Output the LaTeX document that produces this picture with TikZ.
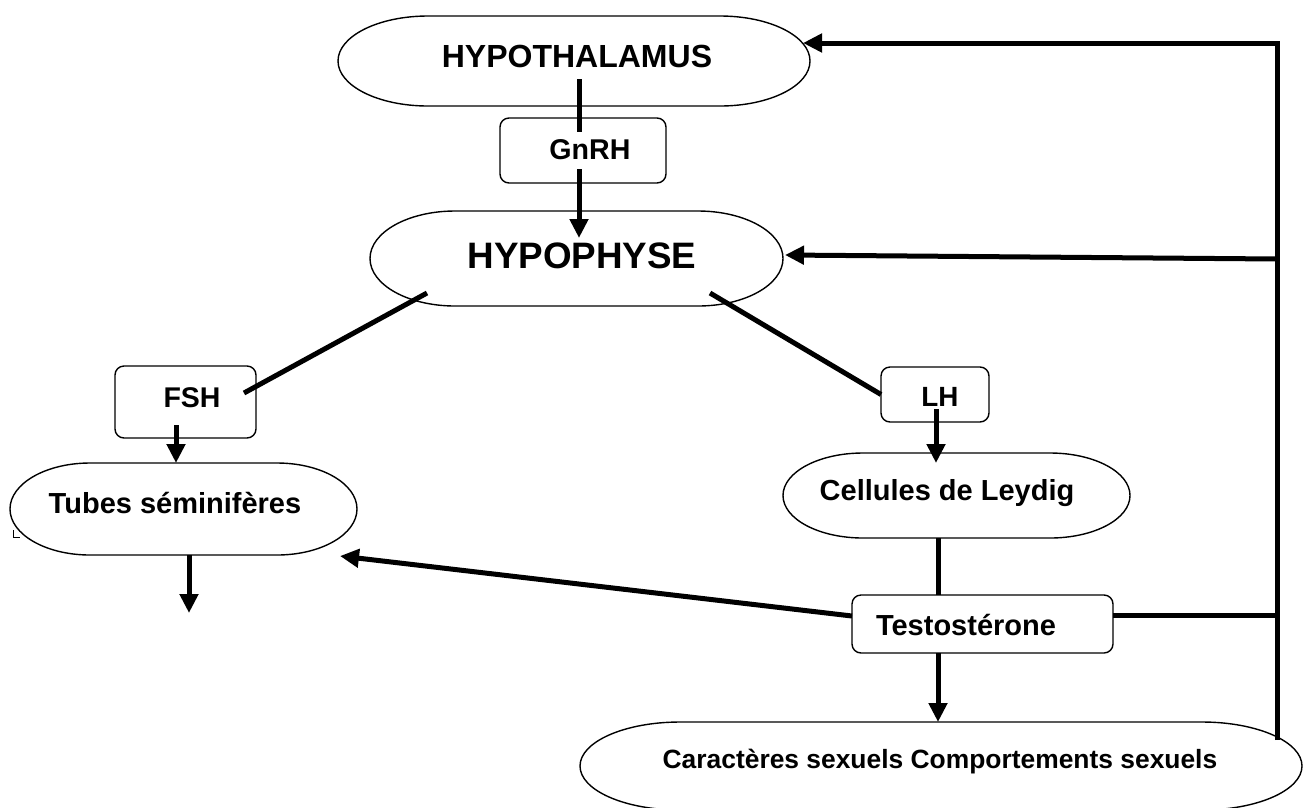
\documentclass[tikz,border=0pt]{standalone}
\usepackage{fontspec}
\setmainfont{Liberation Sans}
\usetikzlibrary{arrows.meta}
\newcommand\stadiumdraw[3]{%
  \draw[outline] ([xshift=#2]#1.north west) -- ([xshift=-#2]#1.north east)
    arc[start angle=90,end angle=-90,x radius=#2,y radius=#3]
    -- ([xshift=#2]#1.south west)
    arc[start angle=270,end angle=90,x radius=#2,y radius=#3] -- cycle;}
\begin{document}
\begin{tikzpicture}[x=1pt,y=-1pt,
  outline/.style={draw=black, line width=1.4pt},
  stadium/.style={inner sep=0pt, outer sep=0pt},
  hbox/.style={draw=black, line width=1.4pt, rounded corners=9pt, inner sep=0pt, outer sep=0pt},
  lbl/.style={font=\bfseries\fontsize{#1}{#1}\selectfont, inner sep=0pt, anchor=base},
  link/.style={line width=5pt},
  arr/.style={line width=5pt, -{Triangle[length=19pt,width=18pt]}},
]
\useasboundingbox[fill=white] (0,0) rectangle (1309,807);

% shapes
\node[stadium, minimum width=472pt, minimum height=90pt] (hyp) at (574,61) {};
\stadiumdraw{hyp}{90pt}{45pt}
\node[hbox, minimum width=166pt, minimum height=65pt] (gnrh) at (583,150.5) {};
\node[stadium, minimum width=413pt, minimum height=95pt] (hypo) at (576.5,258.5) {};
\stadiumdraw{hypo}{85pt}{47.5pt}
\node[hbox, minimum width=141pt, minimum height=72pt] (fsh) at (185.5,402) {};
\node[hbox, minimum width=108pt, minimum height=55pt] (lh) at (935,394.5) {};
\node[stadium, minimum width=347pt, minimum height=92pt] (tubes) at (183.5,509) {};
\stadiumdraw{tubes}{80pt}{46pt}
\node[stadium, minimum width=347pt, minimum height=85pt] (leydig) at (956.5,495.5) {};
\stadiumdraw{leydig}{80pt}{42.5pt}
\node[hbox, minimum width=261pt, minimum height=58pt] (testo) at (982.5,624) {};
\node[stadium, minimum width=722pt, minimum height=88pt] (carac) at (941,766) {};
\stadiumdraw{carac}{100pt}{44pt}

% labels
\node[lbl=32] (hypT) at (577,67) {HYPOTHALAMUS};
\node[lbl=28.6] (gnrhT) at (590,159) {GnRH};
\node[lbl=36.8] (hypoT) at (582,268) {HYPOPHYSE};
\node[lbl=28.5] (fshT) at (192,407) {FSH};
\node[lbl=27.8] (lhT) at (940,406) {LH};
\node[lbl=29] (tubesT) at (175,513) {Tubes séminifères};
\node[lbl=29] (leydigT) at (947,500) {Cellules de Leydig};
\node[lbl=29] (testoT) at (966,635) {Testostérone};
\node[lbl=26.4] (caracT) at (940,768) {Caractères sexuels Comportements sexuels};

% bus coordinates
\coordinate (bustop) at (1277,43);
\coordinate (busbot) at (1277,740);
\coordinate (busmid) at (1277,259);
\coordinate (bustesto) at (1277,615);
\coordinate (tubesout) at (189,613);

% connectors
\draw[link] ([xshift=5pt,yshift=-18pt]hyp.center) -- ([xshift=-4pt,yshift=-14pt]gnrh.north);
\draw[arr] ([xshift=-4pt,yshift=14pt]gnrh.south) -- ([xshift=2.5pt,yshift=-27pt]hypo.north);
\draw[link] ([xshift=-149.5pt,yshift=-34.5pt]hypo.center) -- ([xshift=58.5pt,yshift=9pt]fsh.center);
\draw[link] ([xshift=133.5pt,yshift=-34.5pt]hypo.center) -- (lh.west);
\draw[arr] ([xshift=-9.5pt,yshift=-23pt]fsh.center) -- ([xshift=-7.5pt]tubes.north);
\draw[arr] ([xshift=1pt,yshift=-14.5pt]lh.center) -- ([xshift=-20.5pt,yshift=-10pt]leydig.north);
\draw[link] ([xshift=-18.5pt]leydig.south) -- ([xshift=-44.5pt]testo.north);
\draw[arr] ([xshift=-44.5pt]testo.south) -- ([xshift=-3pt]carac.north);
\draw[arr] ([yshift=8pt]testo.west) -- ([xshift=156.5pt,yshift=-47pt]tubes.center);
\draw[arr] ([xshift=5.5pt]tubes.south) -- (tubesout);
\draw[link] ([yshift=9pt]testo.east) -- (bustesto);
\draw[arr] (busbot) -- (bustop) -- ([xshift=-7pt,yshift=18pt]hyp.east);
\draw[arr] (busmid) -- ([xshift=2pt,yshift=3.5pt]hypo.east);

% small mark at left of tubes
\draw[line width=1pt] (13,530) -- (13,537) -- (20,537);
\end{tikzpicture}
\end{document}
